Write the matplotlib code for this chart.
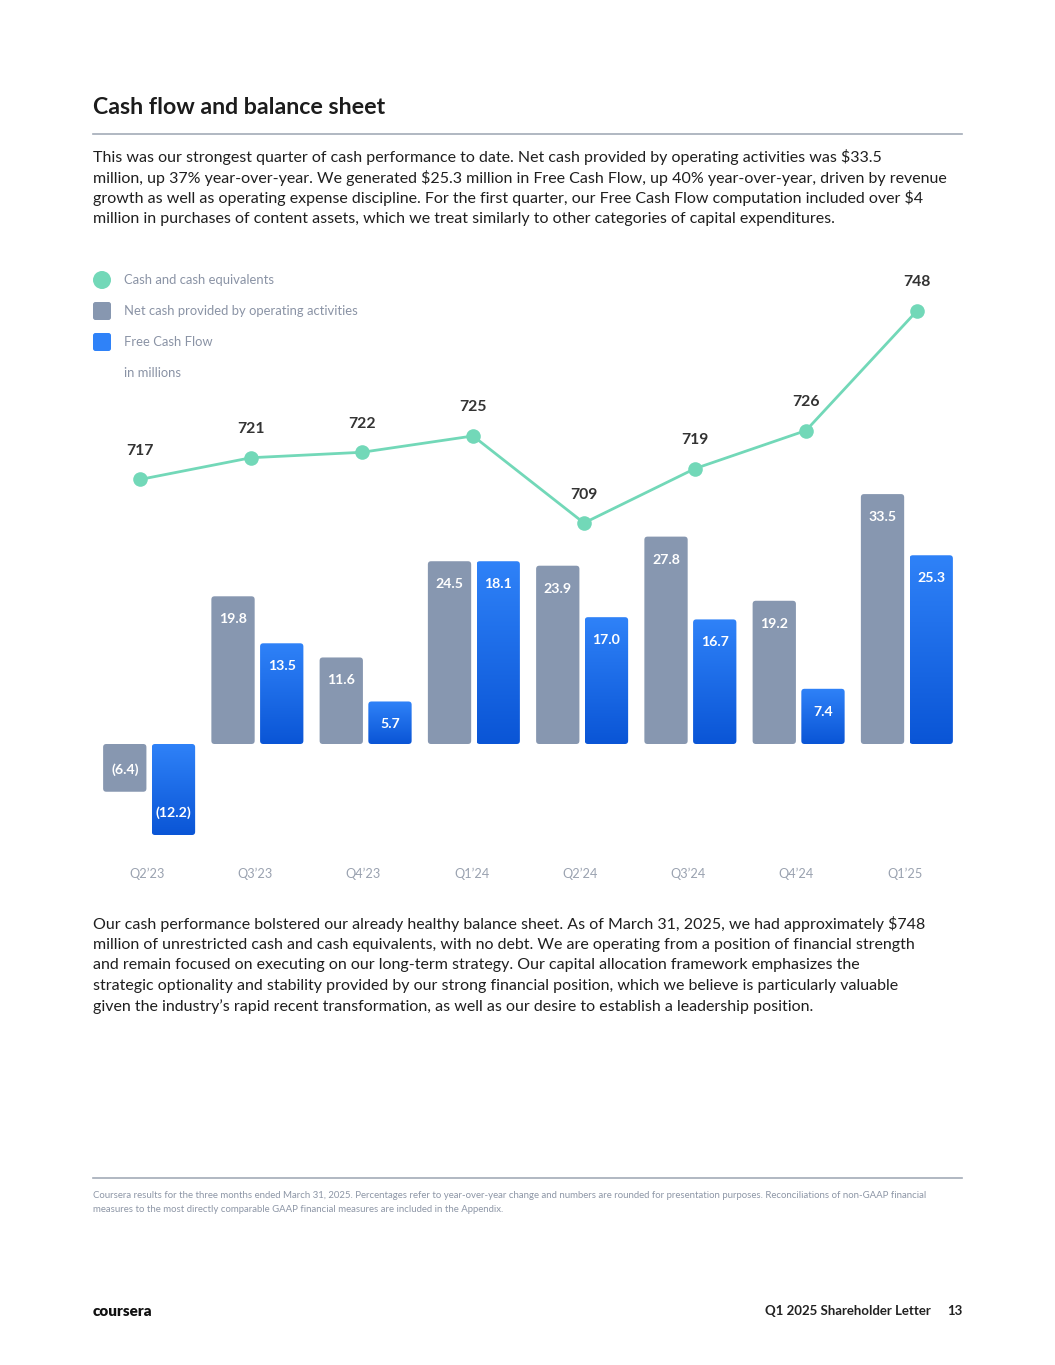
import numpy as np
import matplotlib
matplotlib.use('Agg')
import matplotlib.pyplot as plt
from matplotlib.patches import FancyBboxPatch, Circle
from matplotlib.colors import LinearSegmentedColormap

# data (in millions)
quarters = ['Q2’23', 'Q3’23', 'Q4’23', 'Q1’24', 'Q2’24', 'Q3’24', 'Q4’24', 'Q1’25']
cash = [717, 721, 722, 725, 709, 719, 726, 748]
op_cash = [-6.4, 19.8, 11.6, 24.5, 23.9, 27.8, 19.2, 33.5]
fcf = [-12.2, 13.5, 5.7, 18.1, 17.0, 16.7, 7.4, 25.3]
# heights of the FCF bars as drawn in the source (Q1'24 is drawn as tall as 24.5)
fcf_drawn = [-12.2, 13.5, 5.7, 24.5, 17.0, 16.7, 7.4, 25.3]

legend_labels = ['Cash and cash equivalents',
                 'Net cash provided by operating activities',
                 'Free Cash Flow', 'in millions']

para1 = [
    'This was our strongest quarter of cash performance to date. Net cash provided by operating activities was \\$33.5',
    'million, up 37% year-over-year. We generated \\$25.3 million in Free Cash Flow, up 40% year-over-year, driven by revenue',
    'growth as well as operating expense discipline. For the first quarter, our Free Cash Flow computation included over \\$4',
    'million in purchases of content assets, which we treat similarly to other categories of capital expenditures.',
]
para2 = [
    'Our cash performance bolstered our already healthy balance sheet. As of March 31, 2025, we had approximately \\$748',
    'million of unrestricted cash and cash equivalents, with no debt. We are operating from a position of financial strength',
    'and remain focused on executing on our long-term strategy. Our capital allocation framework emphasizes the',
    'strategic optionality and stability provided by our strong financial position, which we believe is particularly valuable',
    'given the industry’s rapid recent transformation, as well as our desire to establish a leadership position.',
]
footnote = [
    'Coursera results for the three months ended March 31, 2025. Percentages refer to year-over-year change and numbers are rounded for presentation purposes. Reconciliations of non-GAAP financial',
    'measures to the most directly comparable GAAP financial measures are included in the Appendix.',
]

FONT = 'Lato'
TEAL = '#72d8b8'
GRAY = '#8797b0'
BLUE_TOP = '#2f82f8'
BLUE_BOT = '#0a55d6'
W, H = 1055, 1365

plt.rcParams['font.family'] = [FONT, 'DejaVu Sans']

fig = plt.figure(figsize=(W / 100, H / 100), dpi=100)

# page axes in pixel coordinates
page = fig.add_axes([0, 0, 1, 1])
page.set_xlim(0, W)
page.set_ylim(H, 0)
page.axis('off')


def ax_rect(x0, y0, x1, y1):
    """pixel box -> figure fraction rect"""
    return [x0 / W, 1 - y1 / H, (x1 - x0) / W, (y1 - y0) / H]


# title and rules
page.text(93, 108, 'Cash flow and balance sheet', fontsize=16.7,
          fontweight='bold', color='#1c1c1c', va='center', ha='left')
page.plot([93, 962], [134, 134], color='#a3abb8', lw=1.2)
page.plot([93, 962], [1178, 1178], color='#a3abb8', lw=1.2)

for i, line in enumerate(para1):
    page.text(93, 157 + i * 20.7, line, fontsize=11.5, color='#1f1f1f',
              va='center', ha='left')
for i, line in enumerate(para2):
    page.text(93, 924 + i * 20.6, line, fontsize=11.5, color='#1f1f1f',
              va='center', ha='left')
for i, line in enumerate(footnote):
    page.text(93, 1196 + i * 13, line, fontsize=6.95, color='#8d96a6',
              va='center', ha='left')

# footer
page.text(93, 1311, 'coursera', fontsize=11, fontweight='heavy',
          color='#111111', va='center', ha='left')
page.text(931, 1311, 'Q1 2025 Shareholder Letter', fontsize=9.5,
          fontweight='bold', color='#222222', va='center', ha='right')
page.text(962, 1311, '13', fontsize=9.5, fontweight='bold',
          color='#222222', va='center', ha='right')

# legend
page.add_patch(Circle((102, 280), 9, color=TEAL, lw=0))
page.add_patch(FancyBboxPatch((93, 302), 18, 18,
                              boxstyle='round,pad=0,rounding_size=2.5',
                              fc=GRAY, ec='none'))
page.add_patch(FancyBboxPatch((93, 333), 18, 18,
                              boxstyle='round,pad=0,rounding_size=2.5',
                              fc=BLUE_TOP, ec='none'))
for i, lab in enumerate(legend_labels):
    page.text(124, 280 + i * 31, lab, fontsize=9.35, color='#8a93a5',
              va='center', ha='left')

# bar axes
bx = fig.add_axes(ax_rect(95, 260, 961, 890))
px_per_unit = 7.46
bx.axis('off')
bx.patch.set_alpha(0)

xs = np.arange(len(quarters))
bw = 0.4
off = 0.225
aspect = (1 / px_per_unit) / (1 / 108.25)
rs = 3.2 / 108.25
grad = np.linspace(1, 0, 256).reshape(-1, 1)
cmap = LinearSegmentedColormap.from_list('fcf', [BLUE_BOT, BLUE_TOP])


def bar_label(x, v, shown):
    txt = '({:.1f})'.format(-shown) if shown < 0 else '{:.1f}'.format(shown)
    dy = -16.5 if v >= 0 else 16
    bx.annotate(txt, (x, v), xytext=(0, dy), textcoords='offset points',
                ha='center', va='center', color='white', fontsize=10.2,
                fontweight='bold')


for x, g, b, bl in zip(xs, op_cash, fcf_drawn, fcf):
    y0 = min(0, g)
    p = FancyBboxPatch((x - off - bw / 2, y0), bw, abs(g),
                       boxstyle='round,pad=0,rounding_size={}'.format(rs),
                       mutation_aspect=aspect, fc=GRAY, ec='none')
    bx.add_patch(p)
    bar_label(x - off, g, g)

    y0 = min(0, b)
    p = FancyBboxPatch((x + off - bw / 2, y0), bw, abs(b),
                       boxstyle='round,pad=0,rounding_size={}'.format(rs),
                       mutation_aspect=aspect, fc='none', ec='none')
    bx.add_patch(p)
    im = bx.imshow(grad, cmap=cmap, aspect='auto',
                   extent=(x + off - bw / 2, x + off + bw / 2, y0, y0 + abs(b)),
                   zorder=1)
    im.set_clip_path(p)
    bar_label(x + off, b, bl)

for x, q in zip(xs, quarters):
    bx.text(x - 0.02, -(874 - 744) / px_per_unit, q, ha='center', va='center',
            fontsize=9.2, color='#9aa2b0')

bx.set_xlim(-0.5, 7.5)
bx.set_ylim(-(890 - 744) / px_per_unit, (744 - 260) / px_per_unit)

# line axes (separate horizontal scale)
lx = fig.add_axes(ax_rect(95, 260, 961, 890))
lx.set_xlim(-(140 - 95) / 111, 7 + (961 - 917) / 111)
lpx = 5.44
lx.set_ylim(709 - (890 - 523) / lpx, 709 + (523 - 260) / lpx)
lx.axis('off')
lx.patch.set_alpha(0)
lx.plot(xs, cash, color=TEAL, lw=2, marker='o', markersize=10.5,
        markeredgewidth=0, solid_capstyle='round')
for x, v in zip(xs, cash):
    lx.annotate(str(v), (x, v), xytext=(0, 20.5), textcoords='offset points',
                ha='center', va='center', fontsize=11.3, fontweight='bold',
                color='#333333')

fig.savefig('out.png', dpi=100)
